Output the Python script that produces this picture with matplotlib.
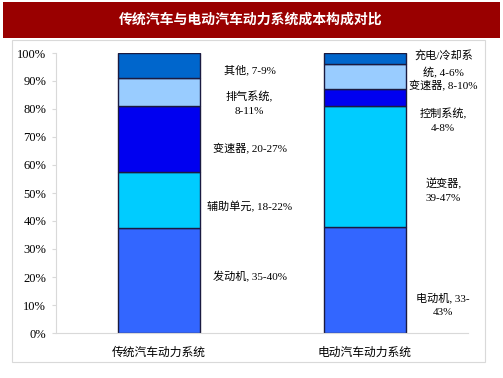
import matplotlib.pyplot as plt
import numpy as np
from matplotlib.patches import Rectangle

# data
categories = ['传统汽车动力系统', '电动汽车动力系统']
ice_parts = ['发动机, 35-40%', '辅助单元, 18-22%', '变速器, 20-27%', '排气系统,\n8-11%', '其他, 7-9%']
ice_vals = [37.5, 20, 23.5, 10, 9]
ev_parts = ['电动机, 33-\n43%', '逆变器,\n39-47%', '控制系统,\n4-8%', '变速器, 8-10%', '充电/冷却系\n统, 4-6%']
ev_vals = [38, 43, 6, 9, 4]
seg_colors = ['#3366FF', '#00CCFF', '#0000F0', '#99CCFF', '#0066CC']
yticks = np.arange(0, 101, 10)

# label placement (y in %)
ice_label_y = [20, 45, 66, 82, 94]
ev_label_y = [10, 51, 76, 88.6, 96]

fontfam = ['Liberation Serif', 'Noto Sans CJK SC']

fig = plt.figure(figsize=(5.03, 3.78), dpi=100)

# title band
fig.patches.append(Rectangle((3/503, 1-38/378), 497/503, 36/378, transform=fig.transFigure,
                             facecolor='#990000', edgecolor='none'))
fig.text(251/503, 1-20/378, '传统汽车与电动汽车动力系统成本构成对比', color='white',
         fontsize=10, fontweight='bold', ha='center', va='center', family='Noto Sans CJK SC')
# panel border
fig.patches.append(Rectangle((12/503, 1-362/378), 473/503, 322/378, transform=fig.transFigure,
                             facecolor='none', edgecolor='#D9D9D9', lw=0.8))

ax = fig.add_axes([56/503, 1-333/378, 412/503, 280/378])

x = np.arange(len(categories))
for vals, xi in [(ice_vals, 0), (ev_vals, 1)]:
    bottom = 0
    for v, c in zip(vals, seg_colors):
        ax.bar(xi, v, 0.4, bottom=bottom, color=c, edgecolor='#1a1a40', linewidth=1)
        bottom += v

for txt, yy in zip(ice_parts, ice_label_y):
    ax.text(0.44, yy, txt, ha='center', va='center', fontsize=8, family=fontfam,
            linespacing=1.7)
for txt, yy in zip(ev_parts, ev_label_y):
    ax.text(1.38, yy, txt, ha='center', va='center', fontsize=8, family=fontfam,
            linespacing=1.7)

ax.set_xlim(-0.5, 1.5)
ax.set_ylim(0, 100)
ax.set_yticks(yticks)
ax.set_yticklabels([f'{t}%' for t in yticks], family=fontfam, fontsize=9)
ax.set_xticks(x)
ax.set_xticklabels(categories, family=fontfam, fontsize=8.5)
ax.tick_params(axis='x', length=0, pad=10)
ax.tick_params(axis='y', length=3, color='#D9D9D9', pad=4)
for s in ['top', 'right']:
    ax.spines[s].set_visible(False)
for s in ['left', 'bottom']:
    ax.spines[s].set_color('#D9D9D9')

plt.savefig('out.png', dpi=100)
